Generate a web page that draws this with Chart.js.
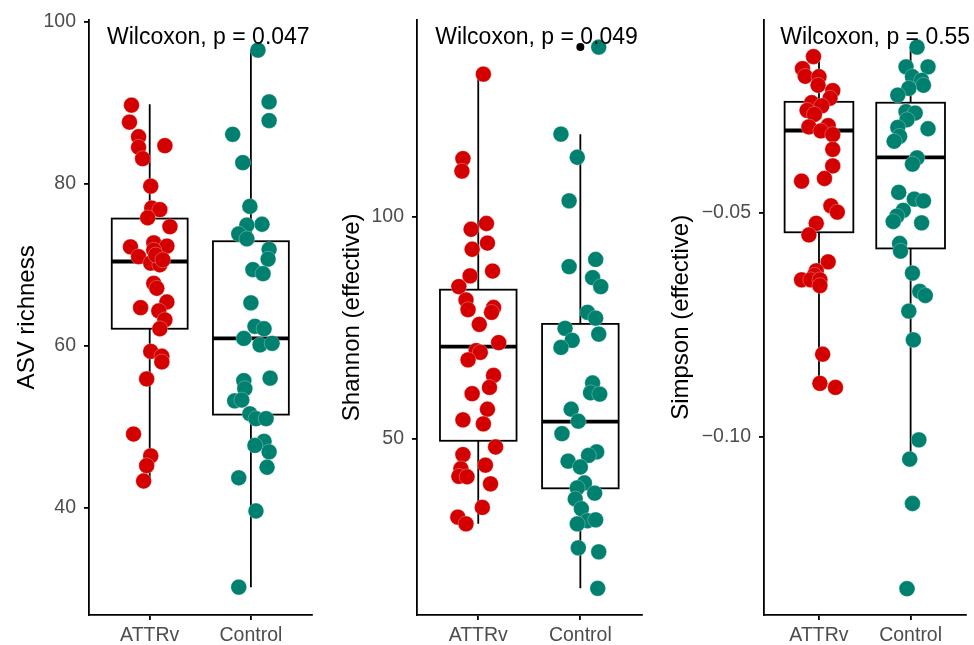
<!DOCTYPE html>
<html>
<head>
<meta charset="utf-8">
<script src="https://cdn.jsdelivr.net/npm/chart.js@4.4.1/dist/chart.umd.min.js"></script>
<style>
    html, body { margin: 0; padding: 0; background: #fff; }
    #wrap { position: relative; width: 974px; height: 645px; overflow: hidden; }
    #wrap canvas { position: absolute; top: 0; }
</style>
</head>
<body>
<div id="wrap">
    <canvas id="chartRich" width="320" height="645" style="left:0px"></canvas>
    <canvas id="chartShan" width="330" height="645" style="left:320px"></canvas>
    <canvas id="chartSimp" width="324" height="645" style="left:650px"></canvas>
</div>
<script>
// ---- data ----
const categories = ['ATTRv', 'Control'];

// ASV richness
const richAttrv = [89.7, 87.6, 85.8, 84.5, 84.7, 83.1, 79.7, 77.0, 76.8, 75.8, 74.7, 72.2, 72.7, 72.3, 71.0, 71.8, 70.2, 70.0, 67.7, 67.1, 65.4, 64.7, 64.3, 63.2, 62.1, 59.3, 58.7, 58.0, 55.9, 49.1, 46.4, 45.2, 43.3, 71.2, 70.6];
const richAttrvJit = [-0.18, -0.20, -0.11, -0.11, 0.15, -0.07, 0.01, 0.02, 0.10, -0.02, 0.20, -0.19, 0.04, 0.17, -0.11, 0.04, 0.01, 0.10, 0.04, 0.07, 0.17, -0.09, 0.09, 0.15, 0.10, 0.01, 0.12, 0.12, -0.03, -0.16, 0.01, -0.03, -0.06, 0.06, 0.13];
const richCtrl = [96.5, 90.1, 87.8, 86.1, 82.6, 77.2, 75.0, 74.9, 73.8, 73.2, 71.9, 70.7, 69.4, 68.9, 65.3, 62.4, 62.1, 60.9, 60.1, 60.3, 56.0, 55.7, 54.7, 53.2, 53.3, 51.6, 51.0, 51.0, 48.2, 47.7, 46.9, 45.0, 43.7, 39.6, 30.2];
const richCtrlJit = [0.07, 0.18, 0.18, -0.18, -0.08, -0.01, 0.11, -0.04, -0.12, -0.04, 0.18, 0.17, 0.02, 0.12, 0.00, 0.04, 0.13, -0.07, 0.09, 0.21, 0.19, -0.07, -0.06, -0.16, -0.09, -0.01, 0.05, 0.15, 0.13, 0.04, 0.18, 0.16, -0.12, 0.05, -0.12];
// [lower whisker, Q1, median, Q3, upper whisker]
const richBoxAttrv = [43.3, 62.1, 70.4, 75.7, 89.8];
const richBoxCtrl = [30.2, 51.5, 60.9, 72.9, 96.6];
const richOutAttrv = [];
const richOutCtrl = [];
const richTicks = [40, 60, 80, 100];
const richTickLabels = ['40', '60', '80', '100'];

// Shannon (effective)
const shanAttrv = [132.1, 113.1, 110.3, 97.2, 98.5, 92.7, 94.1, 87.8, 86.7, 84.3, 81.3, 79.1, 79.6, 78.5, 75.8, 71.7, 69.9, 69.5, 67.8, 64.3, 61.6, 60.2, 56.7, 54.3, 53.4, 48.2, 46.5, 44.1, 43.3, 41.6, 41.5, 39.9, 34.6, 32.4, 30.9];
const shanAttrvJit = [0.05, -0.15, -0.16, -0.07, 0.08, -0.06, 0.09, 0.14, -0.08, -0.19, -0.12, -0.10, 0.15, 0.13, 0.01, 0.20, -0.02, 0.02, -0.10, 0.15, 0.11, -0.06, 0.09, -0.15, 0.05, 0.17, -0.15, 0.07, -0.17, -0.19, -0.11, 0.12, 0.04, -0.20, -0.12];
const shanCtrl = [138.2, 118.6, 113.4, 103.6, 88.8, 90.4, 86.3, 84.3, 78.5, 77.2, 74.9, 73.6, 72.2, 70.6, 62.6, 60.4, 60.1, 56.7, 54.0, 51.2, 47.1, 46.3, 45.0, 43.7, 40.1, 39.0, 37.8, 36.5, 34.3, 31.6, 31.8, 30.9, 25.5, 24.6, 16.4];
const shanCtrlJit = [0.18, -0.19, -0.03, -0.11, -0.11, 0.15, 0.12, 0.20, 0.07, 0.15, -0.15, 0.18, -0.08, -0.19, 0.12, 0.10, 0.19, -0.09, -0.02, -0.18, 0.16, 0.08, -0.12, 0.00, 0.04, -0.03, 0.14, -0.05, 0.01, 0.07, 0.15, -0.03, -0.02, 0.18, 0.17];
const shanBoxAttrv = [30.9, 49.6, 70.8, 83.6, 131.8];
const shanBoxCtrl = [16.4, 38.9, 53.9, 75.9, 118.6];
const shanOutAttrv = [];
const shanOutCtrl = [138.2];
const shanTicks = [50, 100];
const shanTickLabels = ['50', '100'];

// Simpson (effective)
const simpAttrv = [-0.0152, -0.0179, -0.0196, -0.0197, -0.0216, -0.0228, -0.0245, -0.0255, -0.0262, -0.0272, -0.0281, -0.0306, -0.0309, -0.0318, -0.0326, -0.0359, -0.0396, -0.0424, -0.0430, -0.0485, -0.0499, -0.0524, -0.0550, -0.0610, -0.0630, -0.0640, -0.0650, -0.0650, -0.0650, -0.0663, -0.0816, -0.0881, -0.0890];
const simpAttrvJit = [-0.06, -0.18, -0.15, 0.00, -0.01, 0.15, 0.12, -0.08, 0.03, -0.13, -0.05, 0.10, -0.11, 0.02, 0.15, 0.15, 0.15, 0.06, -0.19, 0.13, 0.20, -0.03, -0.11, 0.10, -0.03, -0.05, -0.19, -0.09, 0.01, 0.01, 0.04, 0.01, 0.18];
const simpCtrl = [-0.0131, -0.0175, -0.0175, -0.0197, -0.0205, -0.0216, -0.0223, -0.0238, -0.0275, -0.0278, -0.0293, -0.0310, -0.0313, -0.0330, -0.0341, -0.0378, -0.0392, -0.0455, -0.0470, -0.0474, -0.0495, -0.0508, -0.0520, -0.0523, -0.0569, -0.0586, -0.0635, -0.0676, -0.0685, -0.0720, -0.0784, -0.1007, -0.1050, -0.1149, -0.1339];
const simpCtrlJit = [0.07, -0.05, 0.19, 0.02, 0.12, 0.14, -0.02, -0.14, -0.05, 0.05, -0.04, -0.14, 0.19, -0.12, -0.18, 0.07, 0.02, -0.13, 0.04, 0.14, -0.08, -0.15, -0.19, 0.12, -0.12, -0.11, 0.02, 0.10, 0.16, -0.02, 0.03, 0.09, -0.01, 0.02, -0.04];
const simpBoxAttrv = [-0.0889, -0.0544, -0.0317, -0.0253, -0.0152];
const simpBoxCtrl = [-0.1050, -0.0580, -0.0377, -0.0255, -0.0131];
const simpOutAttrv = [];
const simpOutCtrl = [-0.1149, -0.1339];
const simpTicks = [-0.10, -0.05];
const simpTickLabels = ['\u22120.10', '\u22120.05'];

const pLabels = ['Wilcoxon, p = 0.047', 'Wilcoxon, p = 0.049', 'Wilcoxon, p = 0.55'];
const yTitles = ['ASV richness', 'Shannon (effective)', 'Simpson (effective)'];

// ---- styling ----
const RED = '#D40000';
const TEAL = '#00806F';
const FONT = "'Liberation Sans', Arial, Helvetica, sans-serif";
const BOX_HALF = 0.375;
const LABEL_X = 0.578;
const LINE_W = 1.8;

// box + whiskers, drawn under the points
const boxPlugin = {
    id: 'boxes',
    beforeDatasetsDraw(chart, args, opts) {
        const ctx = chart.ctx;
        const xs = chart.scales.x, ys = chart.scales.y;
        opts.stats.forEach(function (s, i) {
            const cx = i + 1;
            const l = xs.getPixelForValue(cx - BOX_HALF);
            const r = xs.getPixelForValue(cx + BOX_HALF);
            const m = xs.getPixelForValue(cx);
            const lo = ys.getPixelForValue(s[0]);
            const q1 = ys.getPixelForValue(s[1]);
            const med = ys.getPixelForValue(s[2]);
            const q3 = ys.getPixelForValue(s[3]);
            const hi = ys.getPixelForValue(s[4]);
            ctx.save();
            ctx.strokeStyle = '#000';
            ctx.lineWidth = LINE_W;
            ctx.beginPath();
            ctx.moveTo(m, hi); ctx.lineTo(m, q3);
            ctx.moveTo(m, q1); ctx.lineTo(m, lo);
            ctx.stroke();
            ctx.fillStyle = '#fff';
            ctx.fillRect(l, q3, r - l, q1 - q3);
            ctx.strokeRect(l, q3, r - l, q1 - q3);
            ctx.lineWidth = 3.8;
            ctx.beginPath();
            ctx.moveTo(l, med); ctx.lineTo(r, med);
            ctx.stroke();
            ctx.restore();
        });
    }
};

// test label on top
const pLabelPlugin = {
    id: 'pLabel',
    afterDatasetsDraw(chart, args, opts) {
        const ctx = chart.ctx;
        ctx.save();
        ctx.font = '23px ' + FONT;
        ctx.fillStyle = '#000';
        ctx.textAlign = 'left';
        ctx.textBaseline = 'alphabetic';
        ctx.fillText(opts.text, chart.scales.x.getPixelForValue(LABEL_X), chart.chartArea.top + 24);
        ctx.restore();
    }
};

function _Points(values, jitter, cat) {
    return values.map((v, i) => ({ x: cat + jitter[i], y: v }));
}

function _BuildPanel(id, p) {
    const canvas = document.getElementById(id);
    const outliers = _Points(p.outA, p.outA.map(() => 0), 1).concat(_Points(p.outC, p.outC.map(() => 0), 2));

    const config = {
        type: 'scatter',
        data: {
            datasets: [
                {
                    data: _Points(p.a, p.aJit, 1),
                    backgroundColor: RED, borderColor: 'rgba(255,255,255,0.55)', borderWidth: 0.5,
                    pointRadius: 7.9, order: 0, clip: false
                },
                {
                    data: _Points(p.c, p.cJit, 2),
                    backgroundColor: TEAL, borderColor: 'rgba(255,255,255,0.55)', borderWidth: 0.5,
                    pointRadius: 7.9, order: 0, clip: false
                },
                {
                    data: outliers,
                    backgroundColor: '#000', borderWidth: 0,
                    pointRadius: 4, order: 2, clip: false
                }
            ]
        },
        options: {
            responsive: false,
            animation: false,
            events: [],
            layout: { padding: { top: 14, right: p.padRight, left: 0, bottom: 0 } },
            plugins: {
                legend: { display: false },
                tooltip: { enabled: false },
                boxes: { stats: [p.boxA, p.boxC] },
                pLabel: { text: p.label }
            },
            scales: {
                x: {
                    type: 'linear', min: 0.4, max: 2.6,
                    afterBuildTicks: s => { s.ticks = [{ value: 1 }, { value: 2 }]; },
                    afterFit: s => { s.height = 30; },
                    ticks: {
                        callback: v => categories[v - 1],
                        color: '#4D4D4D', padding: 4, autoSkip: false, maxRotation: 0,
                        font: { family: FONT, size: 19.5, lineHeight: 1.2 }
                    },
                    grid: { drawOnChartArea: false, drawTicks: true, tickLength: 5, color: '#000', lineWidth: LINE_W },
                    border: { display: true, color: '#000', width: LINE_W }
                },
                y: {
                    type: 'linear', min: p.yMin, max: p.yMax,
                    afterBuildTicks: s => { s.ticks = p.ticks.map(v => ({ value: v })); },
                    afterFit: s => { s.width = p.axisWidth; },
                    ticks: {
                        callback: v => p.tickLabels[p.ticks.indexOf(v)],
                        color: '#4D4D4D', padding: 8,
                        font: { family: FONT, size: 19.5 }
                    },
                    title: {
                        display: true, text: p.title, color: '#000',
                        font: { family: FONT, size: 24, lineHeight: 1 },
                        padding: { top: p.titlePad, bottom: 0 }
                    },
                    grid: { drawOnChartArea: false, drawTicks: true, tickLength: 5, color: '#000', lineWidth: LINE_W },
                    border: { display: true, color: '#000', width: LINE_W }
                }
            }
        },
        plugins: [boxPlugin, pLabelPlugin]
    };

    return new Chart(canvas.getContext('2d'), config);
}

_BuildPanel('chartRich', {
    a: richAttrv, aJit: richAttrvJit, c: richCtrl, cJit: richCtrlJit,
    boxA: richBoxAttrv, boxC: richBoxCtrl, outA: richOutAttrv, outC: richOutCtrl,
    ticks: richTicks, tickLabels: richTickLabels, yMin: 26.76, yMax: 100.25,
    title: yTitles[0], label: pLabels[0], axisWidth: 89, padRight: 4, titlePad: 15
});

_BuildPanel('chartShan', {
    a: shanAttrv, aJit: shanAttrvJit, c: shanCtrl, cJit: shanCtrlJit,
    boxA: shanBoxAttrv, boxC: shanBoxCtrl, outA: shanOutAttrv, outC: shanOutCtrl,
    ticks: shanTicks, tickLabels: shanTickLabels, yMin: 10.39, yMax: 144.36,
    title: yTitles[1], label: pLabels[1], axisWidth: 97, padRight: 5, titlePad: 20
});

_BuildPanel('chartSimp', {
    a: simpAttrv, aJit: simpAttrvJit, c: simpCtrl, cJit: simpCtrlJit,
    boxA: simpBoxAttrv, boxC: simpBoxCtrl, outA: simpOutAttrv, outC: simpOutCtrl,
    ticks: simpTicks, tickLabels: simpTickLabels, yMin: -0.13977, yMax: -0.00698,
    title: yTitles[2], label: pLabels[2], axisWidth: 114, padRight: 0, titlePad: 19
});
</script>
</body>
</html>
